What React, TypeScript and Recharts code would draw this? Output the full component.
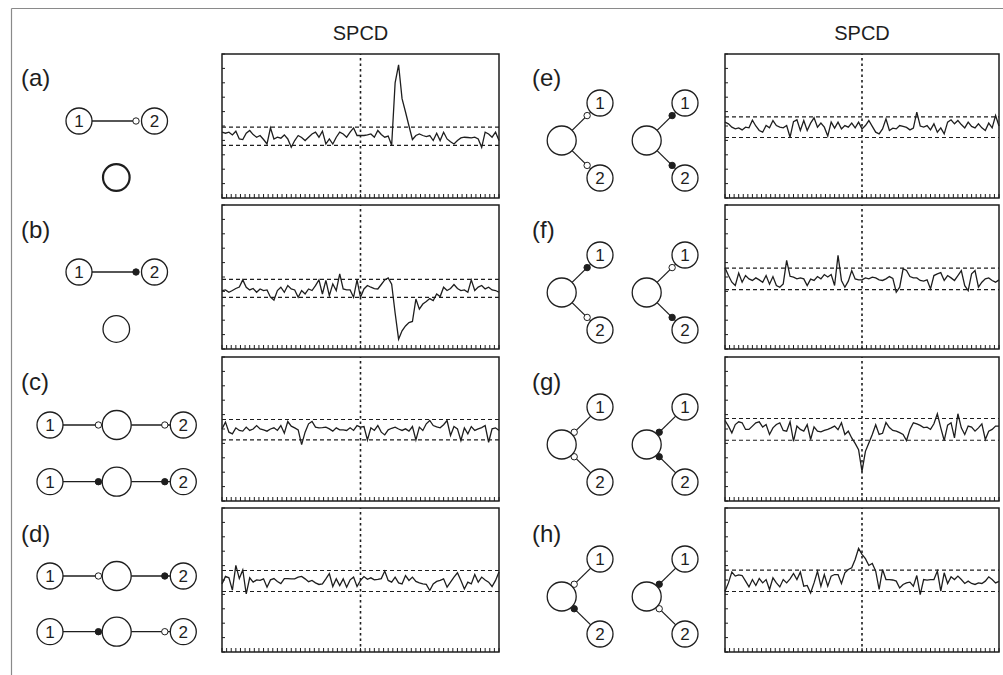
import React from "react";
import { LineChart, Line, XAxis, YAxis, ReferenceLine, ReferenceArea } from "recharts";

// SPCD traces, 81 lags (-40..40)
const A = [4.57, 4.5, 4.57, 4.38, 4.64, 4.1, 4.06, 4.5, 4.69, 4.4, 4.22, 4.34, 4.06, 3.75, 4.87, 4.1, 4.22, 4.15, 4.38, 4.1, 3.52, 3.99, 4.34, 4.2, 3.99, 4.22, 4.45, 4.57, 4.22, 4.64, 3.75, 4.1, 3.75, 4.22, 4.57, 4.45, 4.22, 4.57, 4.87, 4.34, 4.34, 4.34, 4.38, 4.45, 4.22, 4.69, 4.41, 4.22, 4.3, 3.66, 8.0, 9.25, 6.9, 5.97, 5.0, 4.06, 4.34, 4.45, 4.34, 4.27, 4.34, 3.99, 4.5, 3.99, 4.57, 4.1, 3.9, 3.75, 3.99, 4.17, 4.22, 4.2, 4.17, 4.22, 4.1, 3.52, 4.57, 4.45, 4.22, 4.57, 3.99];
const B = [4.06, 4.1, 3.94, 4.06, 4.2, 4.3, 4.8, 4.29, 4.1, 4.2, 3.94, 4.17, 4.06, 4.1, 3.6, 3.4, 4.06, 4.29, 3.94, 4.41, 4.17, 4.1, 3.59, 4.06, 3.82, 4.17, 4.06, 4.4, 4.8, 3.82, 4.76, 3.71, 4.52, 4.06, 5.22, 4.17, 4.1, 4.1, 3.59, 4.8, 3.59, 4.17, 4.41, 4.29, 4.2, 4.17, 4.48, 4.8, 4.94, 4.5, 2.5, 0.68, 1.26, 1.6, 1.84, 1.91, 3.47, 2.77, 3.12, 3.3, 3.5, 3.36, 3.82, 3.64, 4.29, 4.06, 4.2, 4.48, 4.2, 4.06, 4.1, 3.94, 4.8, 4.06, 4.3, 4.41, 4.17, 4.29, 4.1, 4.06, 3.94];
const C = [5.01, 5.48, 4.78, 4.66, 5.08, 4.9, 4.85, 5.13, 4.9, 5.0, 5.24, 5.01, 4.94, 4.85, 5.0, 5.08, 4.9, 5.24, 4.71, 5.52, 5.2, 5.08, 4.94, 3.92, 4.78, 5.36, 5.52, 5.13, 5.08, 5.1, 5.13, 5.01, 4.85, 5.08, 4.94, 4.94, 4.9, 5.08, 4.9, 5.24, 5.13, 5.17, 4.24, 5.08, 4.9, 5.24, 4.78, 4.59, 4.94, 5.05, 5.13, 5.0, 4.9, 5.01, 4.85, 5.17, 4.24, 5.13, 4.9, 5.36, 5.59, 5.24, 5.15, 5.08, 5.3, 5.59, 4.55, 5.17, 5.01, 4.2, 5.08, 4.66, 5.17, 4.9, 5.01, 5.1, 5.24, 4.08, 5.01, 5.08, 4.9];
const D = [4.73, 5.25, 5.15, 4.3, 6.01, 5.1, 5.7, 4.03, 5.15, 4.85, 5.01, 4.97, 5.08, 4.5, 5.01, 5.1, 4.9, 4.75, 5.1, 5.1, 5.08, 5.08, 5.2, 5.25, 5.08, 4.88, 4.97, 4.8, 4.69, 4.73, 5.08, 5.45, 4.55, 5.08, 4.62, 5.08, 4.5, 5.01, 5.2, 4.55, 4.97, 5.24, 5.05, 5.15, 5.01, 5.05, 5.1, 5.62, 4.97, 4.85, 5.2, 4.8, 4.73, 5.31, 4.97, 5.2, 4.9, 4.8, 4.73, 4.69, 4.27, 4.73, 4.9, 4.97, 5.08, 4.5, 4.85, 5.2, 5.5, 4.97, 4.38, 4.85, 4.73, 5.38, 4.85, 5.2, 5.0, 4.85, 4.55, 4.97, 5.55];
const E = [5.27, 5.15, 4.92, 4.8, 4.87, 4.73, 4.92, 4.87, 5.4, 5.0, 4.69, 4.57, 5.03, 4.87, 5.38, 5.03, 4.92, 4.87, 5.03, 4.22, 5.3, 5.43, 4.69, 5.38, 4.69, 5.2, 5.57, 4.92, 5.2, 4.92, 4.3, 5.27, 4.85, 5.27, 4.8, 5.03, 4.92, 5.2, 4.87, 5.27, 4.8, 5.03, 5.38, 4.97, 4.57, 4.45, 4.8, 5.5, 4.69, 4.85, 4.8, 5.03, 4.97, 4.9, 4.73, 4.85, 5.97, 5.0, 4.92, 5.03, 4.73, 5.15, 4.57, 4.87, 4.45, 5.27, 5.43, 5.15, 5.38, 5.1, 4.87, 5.27, 4.97, 4.87, 5.15, 4.87, 4.69, 5.2, 4.87, 5.73, 5.0];
const F = [5.64, 5.1, 4.64, 4.41, 5.27, 4.64, 5.1, 4.87, 4.76, 4.94, 4.8, 4.64, 5.1, 4.5, 5.03, 4.41, 4.29, 4.52, 6.15, 5.05, 4.99, 4.87, 4.94, 4.87, 4.41, 4.85, 4.76, 5.03, 4.87, 5.17, 5.0, 5.17, 4.41, 6.5, 4.76, 4.29, 4.71, 5.45, 4.87, 4.8, 4.8, 4.94, 4.87, 4.99, 4.94, 4.8, 4.76, 4.87, 5.03, 4.9, 3.94, 4.29, 5.57, 5.45, 5.03, 4.94, 4.94, 4.76, 4.71, 4.8, 4.17, 5.1, 5.22, 5.3, 4.76, 5.1, 4.94, 4.76, 5.1, 5.45, 4.4, 4.06, 5.22, 5.45, 4.29, 4.64, 4.87, 4.94, 4.76, 4.64, 4.8];
const G = [5.59, 5.2, 4.73, 5.31, 5.5, 5.43, 4.97, 4.97, 5.2, 5.43, 5.5, 5.13, 5.31, 4.62, 5.08, 5.31, 5.43, 4.9, 4.85, 5.5, 4.15, 5.2, 4.97, 4.85, 5.3, 4.27, 5.15, 4.85, 4.8, 4.9, 4.97, 5.08, 5.2, 4.95, 5.43, 4.62, 4.85, 4.38, 4.0, 3.57, 2.05, 3.45, 4.03, 4.62, 5.3, 4.62, 4.7, 5.45, 5.1, 4.9, 4.85, 4.75, 4.62, 4.2, 4.97, 5.43, 5.36, 5.25, 5.1, 5.13, 4.97, 5.36, 6.06, 5.08, 4.2, 5.27, 5.43, 4.38, 6.06, 5.08, 4.62, 5.2, 5.13, 4.85, 5.08, 5.36, 4.27, 4.85, 4.97, 5.2, 5.2];
const H = [4.22, 4.8, 5.55, 5.27, 5.35, 5.31, 4.92, 4.52, 5.03, 4.62, 5.1, 4.8, 5.03, 4.34, 5.15, 4.8, 4.52, 5.03, 4.8, 5.08, 5.45, 5.03, 5.55, 4.57, 4.62, 4.1, 4.8, 5.6, 4.57, 5.38, 4.57, 5.27, 5.38, 5.38, 4.76, 5.5, 5.73, 5.85, 6.43, 7.2, 6.78, 6.48, 6.01, 6.15, 5.62, 4.34, 5.73, 5.03, 5.03, 5.0, 4.92, 4.45, 4.69, 4.8, 4.85, 4.57, 5.31, 3.99, 5.03, 4.99, 5.03, 5.03, 5.62, 4.22, 5.5, 4.76, 5.22, 5.03, 5.27, 5.03, 4.76, 4.92, 4.76, 4.69, 4.8, 4.76, 4.92, 5.22, 5.03, 4.8, 4.9];

const SERIES = [A, B, C, D, E, F, G, H];
const BAND_HI = [4.92, 4.83, 5.66, 5.66, 5.64, 5.62, 5.73, 5.69];
const BAND_LO = [3.66, 3.59, 4.24, 4.2, 4.2, 4.13, 4.22, 4.2];
const PANEL_LABELS = ["(a)", "(b)", "(c)", "(d)", "(e)", "(f)", "(g)", "(h)"];
const COLUMN_TITLE = "SPCD";

const LAG_MIN = -40;
const LAG_MAX = 40;
const Y_TICKS = [0, 1, 2, 3, 4, 5, 6, 7, 8, 9, 10];
const X_TICKS = Array.from({ length: 61 }, (_, i) => LAG_MIN + (i * (LAG_MAX - LAG_MIN)) / 60);

const INK = "#1e1e1e";
const FONT = '"Liberation Sans", Arial, Helvetica, sans-serif';

const CH_H = 144;
const COL_X = [222, 725];
const COL_W = [277, 274];
const ROW_Y = [54, 205, 357, 508];

const noLabel = () => <g />;

function Trace({ values, hi, lo, w }: { values: number[]; hi: number; lo: number; w: number }) {
  const rows = values.map((v, i) => ({ lag: LAG_MIN + i, v }));
  return (
    <LineChart
      width={w + 2}
      height={CH_H + 2}
      data={rows}
      margin={{ top: 1, right: 1, bottom: 1, left: 1 }}
    >
      <XAxis
        dataKey="lag"
        type="number"
        domain={[LAG_MIN, LAG_MAX]}
        ticks={X_TICKS}
        interval={0}
        tick={noLabel}
        tickSize={4}
        mirror
        height={1}
        axisLine={false}
        tickLine={{ stroke: INK, strokeWidth: 1 }}
      />
      <YAxis
        type="number"
        domain={[0, 10]}
        ticks={Y_TICKS}
        interval={0}
        tick={noLabel}
        tickSize={3}
        mirror
        width={1}
        axisLine={false}
        tickLine={{ stroke: INK, strokeWidth: 1 }}
      />
      <ReferenceLine y={hi} stroke={INK} strokeWidth={1.2} strokeDasharray="4 3" />
      <ReferenceLine y={lo} stroke={INK} strokeWidth={1.2} strokeDasharray="4 3" />
      <ReferenceLine x={0} stroke={INK} strokeWidth={1.6} strokeDasharray="2.5 3" />
      <Line
        type="linear"
        dataKey="v"
        stroke={INK}
        strokeWidth={1.3}
        dot={false}
        isAnimationActive={false}
      />
      <ReferenceArea
        x1={LAG_MIN}
        x2={LAG_MAX}
        y1={0}
        y2={10}
        fill="none"
        fillOpacity={0}
        stroke={INK}
        strokeWidth={1.5}
      />
    </LineChart>
  );
}

const NODE_R = 13;
const HUB_R = 14.5;
const DOT_R = 3.2;
const SW = 1.3;

function Node({ x, y, label }: { x: number; y: number; label: string }) {
  return (
    <g>
      <circle cx={x} cy={y} r={NODE_R} fill="#fff" stroke={INK} strokeWidth={SW} />
      <text x={x} y={y + 6} textAnchor="middle" fontSize={17} fontFamily={FONT} fill={INK}>
        {label}
      </text>
    </g>
  );
}

function Dot({ x, y, filled }: { x: number; y: number; filled: boolean }) {
  return <circle cx={x} cy={y} r={DOT_R} fill={filled ? INK : "#fff"} stroke={INK} strokeWidth={1} />;
}

// two nodes joined by one edge, plus a lone hub below (a, b)
function Pair({ y, filled, hubY, bold }: { y: number; filled: boolean; hubY: number; bold: boolean }) {
  const x1 = 79;
  const x2 = 154.5;
  return (
    <g>
      <line x1={x1 + NODE_R} y1={y} x2={x2 - 18} y2={y} stroke={INK} strokeWidth={SW} />
      <Node x={x1} y={y} label="1" />
      <Node x={x2} y={y} label="2" />
      <Dot x={x2 - 18.5} y={y} filled={filled} />
      <circle cx={116.3} cy={hubY} r={13.3} fill="#fff" stroke={INK} strokeWidth={bold ? 2.2 : SW} />
    </g>
  );
}

// 1 — hub — 2 chain (c, d)
function Chain({ y, hubFilled, endFilled }: { y: number; hubFilled: boolean; endFilled: boolean }) {
  const n1 = 50;
  const hub = 116.7;
  const n2 = 183.3;
  return (
    <g>
      <line x1={n1 + NODE_R} y1={y} x2={hub - HUB_R} y2={y} stroke={INK} strokeWidth={SW} />
      <line x1={hub + HUB_R} y1={y} x2={n2 - NODE_R} y2={y} stroke={INK} strokeWidth={SW} />
      <Node x={n1} y={y} label="1" />
      <circle cx={hub} cy={y} r={HUB_R} fill="#fff" stroke={INK} strokeWidth={SW} />
      <Node x={n2} y={y} label="2" />
      <Dot x={hub - 18.3} y={y} filled={hubFilled} />
      <Dot x={n2 - 18.5} y={y} filled={endFilled} />
    </g>
  );
}

// hub with two branches up-right / down-right (e-h)
function Vee({
  hx,
  hy,
  atHub,
  f1,
  f2,
}: {
  hx: number;
  hy: number;
  atHub: boolean;
  f1: boolean;
  f2: boolean;
}) {
  const dx = 38.3;
  const dy = 37.5;
  const len = Math.hypot(dx, dy);
  const ux = dx / len;
  const uy = dy / len;
  const ends = [
    { nx: hx + dx, ny: hy - dy, sy: -1, f: f1, label: "1" },
    { nx: hx + dx, ny: hy + dy, sy: 1, f: f2, label: "2" },
  ];
  return (
    <g>
      {ends.map((e) => {
        const d = atHub ? 17.5 : len - 18;
        return (
          <g key={e.label}>
            <line
              x1={hx + ux * HUB_R}
              y1={hy + e.sy * uy * HUB_R}
              x2={e.nx - ux * NODE_R}
              y2={e.ny - e.sy * uy * NODE_R}
              stroke={INK}
              strokeWidth={SW}
            />
            <Node x={e.nx} y={e.ny} label={e.label} />
            <Dot x={hx + ux * d} y={hy + e.sy * uy * d} filled={e.f} />
          </g>
        );
      })}
      <circle cx={hx} cy={hy} r={HUB_R} fill="#fff" stroke={INK} strokeWidth={SW} />
    </g>
  );
}

function Diagrams() {
  const veeRows = [140.5, 292.5, 444.5, 596.5];
  const veeSpec = [
    { atHub: false, l: [false, false], r: [true, true] },
    { atHub: false, l: [true, false], r: [false, true] },
    { atHub: true, l: [false, false], r: [true, true] },
    { atHub: true, l: [false, true], r: [true, false] },
  ];
  const labelBase = [86, 238, 390, 542];
  return (
    <svg width={1003} height={675} style={{ position: "absolute", left: 0, top: 0 }}>
      <line x1={11.5} y1={8.5} x2={1003} y2={8.5} stroke="#8a8a8a" strokeWidth={1.2} />
      <line x1={11.5} y1={8.5} x2={11.5} y2={675} stroke="#8a8a8a" strokeWidth={1.2} />
      <text x={360.5} y={40} textAnchor="middle" fontSize={20} fontFamily={FONT} fill={INK}>
        {COLUMN_TITLE}
      </text>
      <text x={862} y={40} textAnchor="middle" fontSize={20} fontFamily={FONT} fill={INK}>
        {COLUMN_TITLE}
      </text>
      {PANEL_LABELS.map((lab, i) => (
        <text
          key={lab}
          x={i < 4 ? 21 : 532}
          y={labelBase[i % 4]}
          fontSize={24}
          fontFamily={FONT}
          fill={INK}
        >
          {lab}
        </text>
      ))}
      <Pair y={121} filled={false} hubY={177.5} bold />
      <Pair y={272} filled hubY={329} bold={false} />
      <Chain y={425} hubFilled={false} endFilled={false} />
      <Chain y={481.7} hubFilled endFilled />
      <Chain y={576} hubFilled={false} endFilled />
      <Chain y={631.7} hubFilled endFilled={false} />
      {veeSpec.map((s, k) => (
        <g key={k}>
          <Vee hx={561.7} hy={veeRows[k]} atHub={s.atHub} f1={s.l[0]} f2={s.l[1]} />
          <Vee hx={646.7} hy={veeRows[k]} atHub={s.atHub} f1={s.r[0]} f2={s.r[1]} />
        </g>
      ))}
    </svg>
  );
}

export default function App() {
  return (
    <div
      style={{
        position: "absolute",
        left: 0,
        top: 0,
        width: 1003,
        height: 675,
        background: "#fff",
        fontFamily: FONT,
        overflow: "hidden",
      }}
    >
      <Diagrams />
      {SERIES.map((s, i) => (
        <div
          key={i}
          style={{
            position: "absolute",
            left: COL_X[Math.floor(i / 4)] - 1,
            top: ROW_Y[i % 4] - 1,
          }}
        >
          <Trace values={s} hi={BAND_HI[i]} lo={BAND_LO[i]} w={COL_W[Math.floor(i / 4)]} />
        </div>
      ))}
    </div>
  );
}
